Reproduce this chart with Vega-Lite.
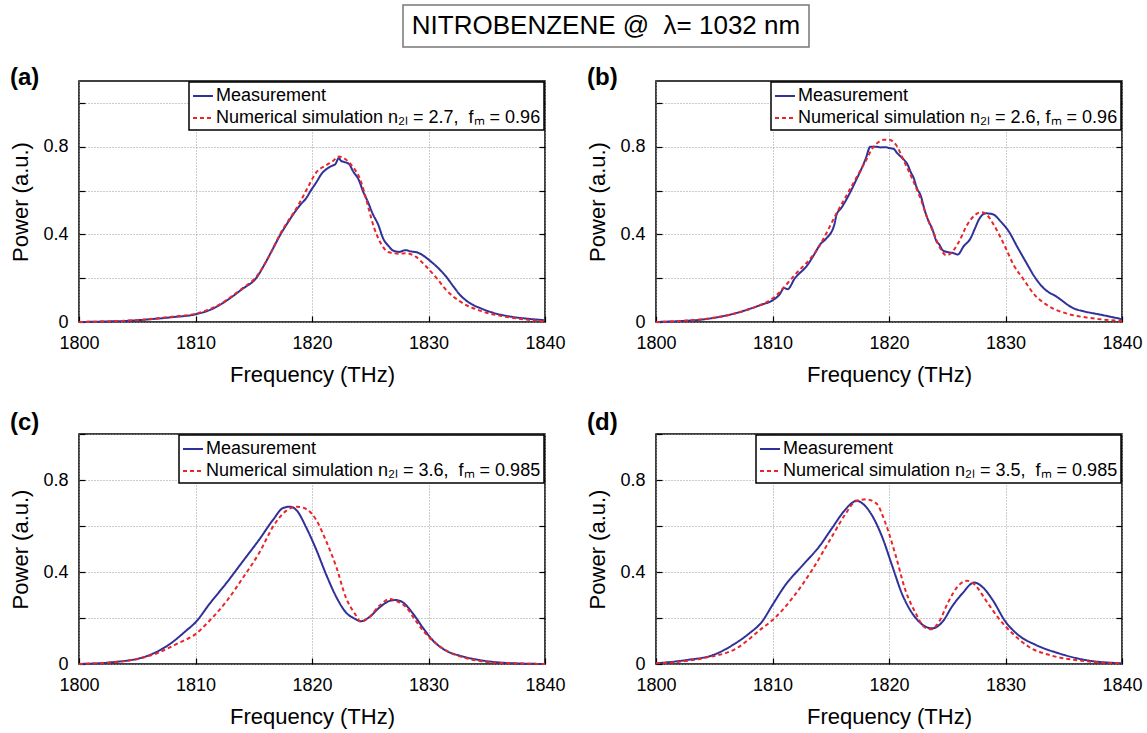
{
"$schema": "https://vega.github.io/schema/vega-lite/v6.json",
"padding": {"left": 9, "top": 4, "right": 5, "bottom": 5},
"background": "white",
"config": {
  "font": "Liberation Sans",
  "view": {"stroke": "black", "strokeWidth": 1.5},
  "axis": {"labelFont": "Liberation Sans", "labelFontSize": 18, "labelColor": "black", "titleFont": "Liberation Sans", "titleFontSize": 22, "titleFontWeight": "normal", "titleColor": "black", "domain": false, "tickColor": "black", "tickSize": -6, "tickWidth": 1.2, "gridColor": "#999", "gridDash": [1, 2], "gridWidth": 1, "labelFlush": false, "labelOverlap": false},
  "axisX": {"labelPadding": 18, "titlePadding": 12},
  "axisY": {"labelPadding": 17, "titlePadding": 10},
  "legend": {"orient": "top-right", "offset": 1, "strokeColor": "black", "strokeWidth": 1.5, "fillColor": "white", "padding": 3, "labelFont": "Liberation Sans", "labelFontSize": 18, "labelColor": "black", "labelLimit": 0, "symbolType": "stroke", "symbolSize": 400, "symbolStrokeWidth": 2, "rowPadding": 2, "labelOffset": 2, "title": null, "cornerRadius": 0},
  "title": {"font": "Liberation Sans", "fontSize": 24, "fontWeight": "bold", "anchor": "start", "frame": "bounds", "color": "black", "baseline": "alphabetic", "offset": -10}
},
"data": {"values": [
{"p":"a","s":"m","f":1800,"y":0},{"p":"a","s":"m","f":1802,"y":0.002},{"p":"a","s":"m","f":1804,"y":0.005},{"p":"a","s":"m","f":1806,"y":0.012},{"p":"a","s":"m","f":1808,"y":0.022},{"p":"a","s":"m","f":1810,"y":0.035},{"p":"a","s":"m","f":1811,"y":0.05},{"p":"a","s":"m","f":1812,"y":0.075},{"p":"a","s":"m","f":1813,"y":0.11},{"p":"a","s":"m","f":1814,"y":0.15},{"p":"a","s":"m","f":1815.2,"y":0.2},{"p":"a","s":"m","f":1816,"y":0.27},{"p":"a","s":"m","f":1816.6,"y":0.33},{"p":"a","s":"m","f":1817.3,"y":0.4},{"p":"a","s":"m","f":1818,"y":0.46},{"p":"a","s":"m","f":1818.5,"y":0.5},{"p":"a","s":"m","f":1819,"y":0.535},{"p":"a","s":"m","f":1819.5,"y":0.565},{"p":"a","s":"m","f":1819.9,"y":0.6},{"p":"a","s":"m","f":1820.4,"y":0.64},{"p":"a","s":"m","f":1820.8,"y":0.675},{"p":"a","s":"m","f":1821.3,"y":0.7},{"p":"a","s":"m","f":1821.8,"y":0.715},{"p":"a","s":"m","f":1822,"y":0.72},{"p":"a","s":"m","f":1822.3,"y":0.748},{"p":"a","s":"m","f":1822.5,"y":0.735},{"p":"a","s":"m","f":1822.8,"y":0.73},{"p":"a","s":"m","f":1823.2,"y":0.72},{"p":"a","s":"m","f":1823.5,"y":0.69},{"p":"a","s":"m","f":1824,"y":0.65},{"p":"a","s":"m","f":1824.4,"y":0.594},{"p":"a","s":"m","f":1824.8,"y":0.548},{"p":"a","s":"m","f":1825.2,"y":0.495},{"p":"a","s":"m","f":1825.7,"y":0.442},{"p":"a","s":"m","f":1826.1,"y":0.382},{"p":"a","s":"m","f":1826.6,"y":0.345},{"p":"a","s":"m","f":1827,"y":0.325},{"p":"a","s":"m","f":1827.5,"y":0.32},{"p":"a","s":"m","f":1828,"y":0.328},{"p":"a","s":"m","f":1828.5,"y":0.322},{"p":"a","s":"m","f":1829,"y":0.318},{"p":"a","s":"m","f":1829.5,"y":0.305},{"p":"a","s":"m","f":1830,"y":0.285},{"p":"a","s":"m","f":1830.7,"y":0.253},{"p":"a","s":"m","f":1831.5,"y":0.208},{"p":"a","s":"m","f":1832.1,"y":0.165},{"p":"a","s":"m","f":1832.7,"y":0.124},{"p":"a","s":"m","f":1833.5,"y":0.088},{"p":"a","s":"m","f":1834.5,"y":0.062},{"p":"a","s":"m","f":1835.5,"y":0.043},{"p":"a","s":"m","f":1837,"y":0.025},{"p":"a","s":"m","f":1838.5,"y":0.015},{"p":"a","s":"m","f":1840,"y":0.008},
{"p":"a","s":"n","f":1800,"y":0},{"p":"a","s":"n","f":1802,"y":0.002},{"p":"a","s":"n","f":1804,"y":0.006},{"p":"a","s":"n","f":1806,"y":0.013},{"p":"a","s":"n","f":1808,"y":0.024},{"p":"a","s":"n","f":1810,"y":0.038},{"p":"a","s":"n","f":1811,"y":0.054},{"p":"a","s":"n","f":1812,"y":0.078},{"p":"a","s":"n","f":1813,"y":0.113},{"p":"a","s":"n","f":1814,"y":0.153},{"p":"a","s":"n","f":1815.2,"y":0.205},{"p":"a","s":"n","f":1816,"y":0.27},{"p":"a","s":"n","f":1816.6,"y":0.33},{"p":"a","s":"n","f":1817.3,"y":0.405},{"p":"a","s":"n","f":1818,"y":0.465},{"p":"a","s":"n","f":1818.5,"y":0.505},{"p":"a","s":"n","f":1819,"y":0.55},{"p":"a","s":"n","f":1819.6,"y":0.61},{"p":"a","s":"n","f":1820.4,"y":0.685},{"p":"a","s":"n","f":1821.2,"y":0.715},{"p":"a","s":"n","f":1821.8,"y":0.735},{"p":"a","s":"n","f":1822.3,"y":0.755},{"p":"a","s":"n","f":1822.9,"y":0.742},{"p":"a","s":"n","f":1823.5,"y":0.708},{"p":"a","s":"n","f":1824.1,"y":0.655},{"p":"a","s":"n","f":1824.5,"y":0.59},{"p":"a","s":"n","f":1824.9,"y":0.51},{"p":"a","s":"n","f":1825.3,"y":0.435},{"p":"a","s":"n","f":1825.8,"y":0.37},{"p":"a","s":"n","f":1826.2,"y":0.335},{"p":"a","s":"n","f":1826.6,"y":0.318},{"p":"a","s":"n","f":1827.5,"y":0.312},{"p":"a","s":"n","f":1828.1,"y":0.314},{"p":"a","s":"n","f":1828.9,"y":0.298},{"p":"a","s":"n","f":1829.8,"y":0.253},{"p":"a","s":"n","f":1830.7,"y":0.2},{"p":"a","s":"n","f":1831.5,"y":0.147},{"p":"a","s":"n","f":1832.7,"y":0.094},{"p":"a","s":"n","f":1834.4,"y":0.052},{"p":"a","s":"n","f":1836.4,"y":0.026},{"p":"a","s":"n","f":1838.4,"y":0.011},{"p":"a","s":"n","f":1840,"y":0.003},
{"p":"b","s":"m","f":1800,"y":0},{"p":"b","s":"m","f":1802,"y":0.004},{"p":"b","s":"m","f":1803.9,"y":0.011},{"p":"b","s":"m","f":1805.5,"y":0.024},{"p":"b","s":"m","f":1806.7,"y":0.038},{"p":"b","s":"m","f":1808.1,"y":0.061},{"p":"b","s":"m","f":1809,"y":0.078},{"p":"b","s":"m","f":1810,"y":0.099},{"p":"b","s":"m","f":1810.6,"y":0.125},{"p":"b","s":"m","f":1811,"y":0.155},{"p":"b","s":"m","f":1811.3,"y":0.15},{"p":"b","s":"m","f":1811.9,"y":0.198},{"p":"b","s":"m","f":1813,"y":0.26},{"p":"b","s":"m","f":1813.6,"y":0.31},{"p":"b","s":"m","f":1814.1,"y":0.355},{"p":"b","s":"m","f":1814.6,"y":0.38},{"p":"b","s":"m","f":1815.3,"y":0.443},{"p":"b","s":"m","f":1815.5,"y":0.49},{"p":"b","s":"m","f":1815.9,"y":0.52},{"p":"b","s":"m","f":1816.7,"y":0.595},{"p":"b","s":"m","f":1817.2,"y":0.65},{"p":"b","s":"m","f":1817.6,"y":0.695},{"p":"b","s":"m","f":1818,"y":0.745},{"p":"b","s":"m","f":1818.4,"y":0.8},{"p":"b","s":"m","f":1818.9,"y":0.8},{"p":"b","s":"m","f":1819.3,"y":0.797},{"p":"b","s":"m","f":1819.7,"y":0.798},{"p":"b","s":"m","f":1820,"y":0.794},{"p":"b","s":"m","f":1820.4,"y":0.79},{"p":"b","s":"m","f":1820.7,"y":0.771},{"p":"b","s":"m","f":1821.1,"y":0.75},{"p":"b","s":"m","f":1821.6,"y":0.718},{"p":"b","s":"m","f":1821.9,"y":0.68},{"p":"b","s":"m","f":1822.1,"y":0.66},{"p":"b","s":"m","f":1822.4,"y":0.61},{"p":"b","s":"m","f":1822.7,"y":0.58},{"p":"b","s":"m","f":1823.1,"y":0.504},{"p":"b","s":"m","f":1823.4,"y":0.46},{"p":"b","s":"m","f":1823.7,"y":0.427},{"p":"b","s":"m","f":1824.1,"y":0.366},{"p":"b","s":"m","f":1824.3,"y":0.355},{"p":"b","s":"m","f":1824.6,"y":0.328},{"p":"b","s":"m","f":1825.1,"y":0.318},{"p":"b","s":"m","f":1825.5,"y":0.315},{"p":"b","s":"m","f":1825.9,"y":0.308},{"p":"b","s":"m","f":1826.4,"y":0.345},{"p":"b","s":"m","f":1827,"y":0.382},{"p":"b","s":"m","f":1827.4,"y":0.43},{"p":"b","s":"m","f":1827.7,"y":0.466},{"p":"b","s":"m","f":1828.3,"y":0.496},{"p":"b","s":"m","f":1828.9,"y":0.492},{"p":"b","s":"m","f":1829.6,"y":0.458},{"p":"b","s":"m","f":1830.3,"y":0.412},{"p":"b","s":"m","f":1831,"y":0.344},{"p":"b","s":"m","f":1831.9,"y":0.26},{"p":"b","s":"m","f":1832.4,"y":0.214},{"p":"b","s":"m","f":1833.3,"y":0.153},{"p":"b","s":"m","f":1834.4,"y":0.115},{"p":"b","s":"m","f":1835.9,"y":0.061},{"p":"b","s":"m","f":1836.7,"y":0.049},{"p":"b","s":"m","f":1838.1,"y":0.034},{"p":"b","s":"m","f":1840,"y":0.013},
{"p":"b","s":"n","f":1800,"y":0},{"p":"b","s":"n","f":1802,"y":0.004},{"p":"b","s":"n","f":1803.9,"y":0.012},{"p":"b","s":"n","f":1805.5,"y":0.024},{"p":"b","s":"n","f":1806.7,"y":0.038},{"p":"b","s":"n","f":1808.5,"y":0.068},{"p":"b","s":"n","f":1810,"y":0.107},{"p":"b","s":"n","f":1811.9,"y":0.214},{"p":"b","s":"n","f":1813.9,"y":0.336},{"p":"b","s":"n","f":1815.5,"y":0.496},{"p":"b","s":"n","f":1816.7,"y":0.611},{"p":"b","s":"n","f":1817.9,"y":0.725},{"p":"b","s":"n","f":1818.7,"y":0.802},{"p":"b","s":"n","f":1819.2,"y":0.825},{"p":"b","s":"n","f":1819.6,"y":0.832},{"p":"b","s":"n","f":1820,"y":0.832},{"p":"b","s":"n","f":1820.6,"y":0.809},{"p":"b","s":"n","f":1821.3,"y":0.733},{"p":"b","s":"n","f":1822.1,"y":0.641},{"p":"b","s":"n","f":1822.7,"y":0.565},{"p":"b","s":"n","f":1823.3,"y":0.473},{"p":"b","s":"n","f":1823.9,"y":0.397},{"p":"b","s":"n","f":1824.4,"y":0.336},{"p":"b","s":"n","f":1824.9,"y":0.305},{"p":"b","s":"n","f":1825.3,"y":0.313},{"p":"b","s":"n","f":1826,"y":0.366},{"p":"b","s":"n","f":1826.7,"y":0.443},{"p":"b","s":"n","f":1827.4,"y":0.489},{"p":"b","s":"n","f":1827.9,"y":0.501},{"p":"b","s":"n","f":1828.4,"y":0.489},{"p":"b","s":"n","f":1829,"y":0.443},{"p":"b","s":"n","f":1829.9,"y":0.351},{"p":"b","s":"n","f":1830.7,"y":0.26},{"p":"b","s":"n","f":1831.6,"y":0.191},{"p":"b","s":"n","f":1832.4,"y":0.13},{"p":"b","s":"n","f":1833.6,"y":0.076},{"p":"b","s":"n","f":1835.3,"y":0.038},{"p":"b","s":"n","f":1837.3,"y":0.018},{"p":"b","s":"n","f":1840,"y":0.005},
{"p":"c","s":"m","f":1800,"y":0},{"p":"c","s":"m","f":1802.7,"y":0.007},{"p":"c","s":"m","f":1805.5,"y":0.029},{"p":"c","s":"m","f":1807.8,"y":0.087},{"p":"c","s":"m","f":1809.2,"y":0.145},{"p":"c","s":"m","f":1810,"y":0.181},{"p":"c","s":"m","f":1811.2,"y":0.261},{"p":"c","s":"m","f":1812.7,"y":0.355},{"p":"c","s":"m","f":1814.1,"y":0.449},{"p":"c","s":"m","f":1815.5,"y":0.543},{"p":"c","s":"m","f":1816.7,"y":0.63},{"p":"c","s":"m","f":1817.5,"y":0.678},{"p":"c","s":"m","f":1818.1,"y":0.684},{"p":"c","s":"m","f":1818.7,"y":0.667},{"p":"c","s":"m","f":1819.5,"y":0.594},{"p":"c","s":"m","f":1820.4,"y":0.493},{"p":"c","s":"m","f":1821.2,"y":0.391},{"p":"c","s":"m","f":1822.1,"y":0.29},{"p":"c","s":"m","f":1822.9,"y":0.225},{"p":"c","s":"m","f":1823.7,"y":0.196},{"p":"c","s":"m","f":1824.2,"y":0.186},{"p":"c","s":"m","f":1824.9,"y":0.203},{"p":"c","s":"m","f":1825.8,"y":0.246},{"p":"c","s":"m","f":1826.7,"y":0.275},{"p":"c","s":"m","f":1827.2,"y":0.278},{"p":"c","s":"m","f":1827.8,"y":0.268},{"p":"c","s":"m","f":1828.7,"y":0.217},{"p":"c","s":"m","f":1829.5,"y":0.159},{"p":"c","s":"m","f":1830.4,"y":0.101},{"p":"c","s":"m","f":1831.5,"y":0.058},{"p":"c","s":"m","f":1832.7,"y":0.036},{"p":"c","s":"m","f":1834.4,"y":0.017},{"p":"c","s":"m","f":1836.9,"y":0.004},{"p":"c","s":"m","f":1840,"y":0},
{"p":"c","s":"n","f":1800,"y":0},{"p":"c","s":"n","f":1804.1,"y":0.014},{"p":"c","s":"n","f":1806.9,"y":0.051},{"p":"c","s":"n","f":1808.5,"y":0.09},{"p":"c","s":"n","f":1810,"y":0.13},{"p":"c","s":"n","f":1811.2,"y":0.188},{"p":"c","s":"n","f":1812.7,"y":0.275},{"p":"c","s":"n","f":1814.1,"y":0.377},{"p":"c","s":"n","f":1815.5,"y":0.486},{"p":"c","s":"n","f":1816.7,"y":0.601},{"p":"c","s":"n","f":1817.8,"y":0.667},{"p":"c","s":"n","f":1818.7,"y":0.684},{"p":"c","s":"n","f":1819.5,"y":0.674},{"p":"c","s":"n","f":1820.4,"y":0.623},{"p":"c","s":"n","f":1821.2,"y":0.536},{"p":"c","s":"n","f":1822.1,"y":0.42},{"p":"c","s":"n","f":1822.9,"y":0.29},{"p":"c","s":"n","f":1823.7,"y":0.217},{"p":"c","s":"n","f":1824.2,"y":0.184},{"p":"c","s":"n","f":1824.9,"y":0.203},{"p":"c","s":"n","f":1825.8,"y":0.254},{"p":"c","s":"n","f":1826.7,"y":0.283},{"p":"c","s":"n","f":1827.2,"y":0.275},{"p":"c","s":"n","f":1828.1,"y":0.246},{"p":"c","s":"n","f":1828.9,"y":0.188},{"p":"c","s":"n","f":1829.8,"y":0.13},{"p":"c","s":"n","f":1830.7,"y":0.087},{"p":"c","s":"n","f":1831.8,"y":0.051},{"p":"c","s":"n","f":1833.5,"y":0.022},{"p":"c","s":"n","f":1835.5,"y":0.007},{"p":"c","s":"n","f":1840,"y":0},
{"p":"d","s":"m","f":1800,"y":0.003},{"p":"d","s":"m","f":1802.6,"y":0.017},{"p":"d","s":"m","f":1804.9,"y":0.039},{"p":"d","s":"m","f":1806.6,"y":0.083},{"p":"d","s":"m","f":1808,"y":0.133},{"p":"d","s":"m","f":1809.1,"y":0.184},{"p":"d","s":"m","f":1810,"y":0.257},{"p":"d","s":"m","f":1811.1,"y":0.343},{"p":"d","s":"m","f":1812.6,"y":0.43},{"p":"d","s":"m","f":1814,"y":0.51},{"p":"d","s":"m","f":1815.1,"y":0.59},{"p":"d","s":"m","f":1816.1,"y":0.662},{"p":"d","s":"m","f":1816.9,"y":0.703},{"p":"d","s":"m","f":1817.2,"y":0.71},{"p":"d","s":"m","f":1817.7,"y":0.699},{"p":"d","s":"m","f":1818.6,"y":0.641},{"p":"d","s":"m","f":1819.4,"y":0.554},{"p":"d","s":"m","f":1820.3,"y":0.423},{"p":"d","s":"m","f":1821.1,"y":0.307},{"p":"d","s":"m","f":1822,"y":0.22},{"p":"d","s":"m","f":1822.9,"y":0.17},{"p":"d","s":"m","f":1823.7,"y":0.155},{"p":"d","s":"m","f":1824.6,"y":0.184},{"p":"d","s":"m","f":1825.4,"y":0.249},{"p":"d","s":"m","f":1826.3,"y":0.307},{"p":"d","s":"m","f":1827.3,"y":0.354},{"p":"d","s":"m","f":1828,"y":0.336},{"p":"d","s":"m","f":1828.9,"y":0.278},{"p":"d","s":"m","f":1830,"y":0.184},{"p":"d","s":"m","f":1831.1,"y":0.126},{"p":"d","s":"m","f":1832.6,"y":0.083},{"p":"d","s":"m","f":1834.6,"y":0.046},{"p":"d","s":"m","f":1836.9,"y":0.017},{"p":"d","s":"m","f":1840,"y":0.003},
{"p":"d","s":"n","f":1800,"y":0.003},{"p":"d","s":"n","f":1804,"y":0.025},{"p":"d","s":"n","f":1806.9,"y":0.068},{"p":"d","s":"n","f":1809.1,"y":0.155},{"p":"d","s":"n","f":1810,"y":0.191},{"p":"d","s":"n","f":1811.7,"y":0.286},{"p":"d","s":"n","f":1813.4,"y":0.409},{"p":"d","s":"n","f":1815.1,"y":0.554},{"p":"d","s":"n","f":1816.3,"y":0.655},{"p":"d","s":"n","f":1817.1,"y":0.706},{"p":"d","s":"n","f":1818,"y":0.716},{"p":"d","s":"n","f":1818.9,"y":0.699},{"p":"d","s":"n","f":1819.7,"y":0.612},{"p":"d","s":"n","f":1820.6,"y":0.467},{"p":"d","s":"n","f":1821.4,"y":0.322},{"p":"d","s":"n","f":1822.3,"y":0.22},{"p":"d","s":"n","f":1823,"y":0.162},{"p":"d","s":"n","f":1823.6,"y":0.151},{"p":"d","s":"n","f":1824.3,"y":0.184},{"p":"d","s":"n","f":1825.1,"y":0.271},{"p":"d","s":"n","f":1826,"y":0.343},{"p":"d","s":"n","f":1826.7,"y":0.362},{"p":"d","s":"n","f":1827.4,"y":0.343},{"p":"d","s":"n","f":1828.3,"y":0.278},{"p":"d","s":"n","f":1829.4,"y":0.199},{"p":"d","s":"n","f":1830.6,"y":0.133},{"p":"d","s":"n","f":1832,"y":0.075},{"p":"d","s":"n","f":1834,"y":0.036},{"p":"d","s":"n","f":1836.6,"y":0.014},{"p":"d","s":"n","f":1840,"y":0.003}
]},
"vconcat": [
  {
    "hconcat": [
      {
        "data": {"values": []},
        "width": 313, "height": 42,
        "view": {"stroke": "transparent"},
        "mark": {"type": "text"},
        "encoding": {}
      },
      {
        "data": {"values": [{"t": "NITROBENZENE @\u00a0\u00a0\u03bb= 1032 nm"}]},
        "width": 406, "height": 42,
        "view": {"stroke": "#777", "strokeWidth": 1.5},
        "mark": {"type": "text", "fontSize": 26, "font": "Liberation Sans", "align": "center", "baseline": "middle", "color": "black"},
        "encoding": {"text": {"field": "t", "type": "nominal"}}
      }
    ],
    "spacing": 9
  },
  {
    "vconcat": [
      {
        "hconcat": [
          {
            "width": 466, "height": 241,
            "title": {"text": "(a)"},
            "transform": [{"filter": "datum.p == 'a'"}],
            "layer": [
              {
                "mark": {"type": "line", "strokeWidth": 2, "interpolate": "monotone"},
                "encoding": {
                  "x": {"field": "f", "type": "quantitative", "scale": {"domain": [1800, 1840], "nice": false}, "axis": {"values": [1800, 1810, 1820, 1830, 1840], "format": "d", "title": "Frequency (THz)"}},
                  "y": {"field": "y", "type": "quantitative", "scale": {"domain": [0, 1.1], "nice": false}, "axis": {"values": [0, 0.2, 0.4, 0.6, 0.8, 1.0], "format": ".1~f", "labelExpr": "datum.value == 0 || datum.value == 0.4 || datum.value == 0.8 ? datum.label : ''", "title": "Power (a.u.)"}},
                  "color": {"field": "s", "type": "nominal", "scale": {"domain": ["m", "n"], "range": ["#30309a", "#e8262a"]}, "legend": {"labelExpr": "datum.value == 'm' ? 'Measurement' : 'Numerical simulation n\u2082\u2097 = 2.7,\u00a0\u00a0f\u2098 = 0.96'"}},
                  "strokeDash": {"field": "s", "type": "nominal", "scale": {"domain": ["m", "n"], "range": [[1, 0], [4, 3]]}, "legend": {"labelExpr": "datum.value == 'm' ? 'Measurement' : 'Numerical simulation n\u2082\u2097 = 2.7,\u00a0\u00a0f\u2098 = 0.96'"}}
                }
              },
              {
                "mark": {"type": "line", "strokeOpacity": 0},
                "encoding": {
                  "x": {"field": "f", "type": "quantitative", "axis": {"orient": "top", "values": [1810, 1820, 1830], "labels": false, "grid": false, "title": null}},
                  "y": {"field": "y", "type": "quantitative", "axis": {"orient": "right", "values": [0.2, 0.4, 0.6, 0.8, 1.0], "labels": false, "grid": false, "title": null}},
                  "detail": {"field": "s"}
                }
              }
            ],
            "resolve": {"axis": {"x": "independent", "y": "independent"}}
          },
          {
            "width": 466, "height": 241,
            "title": {"text": "(b)"},
            "transform": [{"filter": "datum.p == 'b'"}],
            "layer": [
              {
                "mark": {"type": "line", "strokeWidth": 2, "interpolate": "monotone"},
                "encoding": {
                  "x": {"field": "f", "type": "quantitative", "scale": {"domain": [1800, 1840], "nice": false}, "axis": {"values": [1800, 1810, 1820, 1830, 1840], "format": "d", "title": "Frequency (THz)"}},
                  "y": {"field": "y", "type": "quantitative", "scale": {"domain": [0, 1.1], "nice": false}, "axis": {"values": [0, 0.2, 0.4, 0.6, 0.8, 1.0], "format": ".1~f", "labelExpr": "datum.value == 0 || datum.value == 0.4 || datum.value == 0.8 ? datum.label : ''", "title": "Power (a.u.)"}},
                  "color": {"field": "s", "type": "nominal", "scale": {"domain": ["m", "n"], "range": ["#30309a", "#e8262a"]}, "legend": {"labelExpr": "datum.value == 'm' ? 'Measurement' : 'Numerical simulation n\u2082\u2097 = 2.6, f\u2098 = 0.96'"}},
                  "strokeDash": {"field": "s", "type": "nominal", "scale": {"domain": ["m", "n"], "range": [[1, 0], [4, 3]]}, "legend": {"labelExpr": "datum.value == 'm' ? 'Measurement' : 'Numerical simulation n\u2082\u2097 = 2.6, f\u2098 = 0.96'"}}
                }
              },
              {
                "mark": {"type": "line", "strokeOpacity": 0},
                "encoding": {
                  "x": {"field": "f", "type": "quantitative", "axis": {"orient": "top", "values": [1810, 1820, 1830], "labels": false, "grid": false, "title": null}},
                  "y": {"field": "y", "type": "quantitative", "axis": {"orient": "right", "values": [0.2, 0.4, 0.6, 0.8, 1.0], "labels": false, "grid": false, "title": null}},
                  "detail": {"field": "s"}
                }
              }
            ],
            "resolve": {"axis": {"x": "independent", "y": "independent"}}
          }
        ],
        "spacing": 20,
        "resolve": {"scale": {"color": "independent", "strokeDash": "independent"}, "legend": {"color": "independent", "strokeDash": "independent"}}
      },
      {
        "hconcat": [
          {
            "width": 466, "height": 230,
            "title": {"text": "(c)"},
            "transform": [{"filter": "datum.p == 'c'"}],
            "layer": [
              {
                "mark": {"type": "line", "strokeWidth": 2, "interpolate": "monotone"},
                "encoding": {
                  "x": {"field": "f", "type": "quantitative", "scale": {"domain": [1800, 1840], "nice": false}, "axis": {"values": [1800, 1810, 1820, 1830, 1840], "format": "d", "title": "Frequency (THz)"}},
                  "y": {"field": "y", "type": "quantitative", "scale": {"domain": [0, 1.0], "nice": false}, "axis": {"values": [0, 0.2, 0.4, 0.6, 0.8, 1.0], "format": ".1~f", "labelExpr": "datum.value == 0 || datum.value == 0.4 || datum.value == 0.8 ? datum.label : ''", "title": "Power (a.u.)"}},
                  "color": {"field": "s", "type": "nominal", "scale": {"domain": ["m", "n"], "range": ["#30309a", "#e8262a"]}, "legend": {"labelExpr": "datum.value == 'm' ? 'Measurement' : 'Numerical simulation n\u2082\u2097 = 3.6,\u00a0\u00a0f\u2098 = 0.985'"}},
                  "strokeDash": {"field": "s", "type": "nominal", "scale": {"domain": ["m", "n"], "range": [[1, 0], [4, 3]]}, "legend": {"labelExpr": "datum.value == 'm' ? 'Measurement' : 'Numerical simulation n\u2082\u2097 = 3.6,\u00a0\u00a0f\u2098 = 0.985'"}}
                }
              },
              {
                "mark": {"type": "line", "strokeOpacity": 0},
                "encoding": {
                  "x": {"field": "f", "type": "quantitative", "axis": {"orient": "top", "values": [1810, 1820, 1830], "labels": false, "grid": false, "title": null}},
                  "y": {"field": "y", "type": "quantitative", "axis": {"orient": "right", "values": [0.2, 0.4, 0.6, 0.8], "labels": false, "grid": false, "title": null}},
                  "detail": {"field": "s"}
                }
              }
            ],
            "resolve": {"axis": {"x": "independent", "y": "independent"}}
          },
          {
            "width": 466, "height": 230,
            "title": {"text": "(d)"},
            "transform": [{"filter": "datum.p == 'd'"}],
            "layer": [
              {
                "mark": {"type": "line", "strokeWidth": 2, "interpolate": "monotone"},
                "encoding": {
                  "x": {"field": "f", "type": "quantitative", "scale": {"domain": [1800, 1840], "nice": false}, "axis": {"values": [1800, 1810, 1820, 1830, 1840], "format": "d", "title": "Frequency (THz)"}},
                  "y": {"field": "y", "type": "quantitative", "scale": {"domain": [0, 1.0], "nice": false}, "axis": {"values": [0, 0.2, 0.4, 0.6, 0.8, 1.0], "format": ".1~f", "labelExpr": "datum.value == 0 || datum.value == 0.4 || datum.value == 0.8 ? datum.label : ''", "title": "Power (a.u.)"}},
                  "color": {"field": "s", "type": "nominal", "scale": {"domain": ["m", "n"], "range": ["#30309a", "#e8262a"]}, "legend": {"labelExpr": "datum.value == 'm' ? 'Measurement' : 'Numerical simulation n\u2082\u2097 = 3.5,\u00a0\u00a0f\u2098 = 0.985'"}},
                  "strokeDash": {"field": "s", "type": "nominal", "scale": {"domain": ["m", "n"], "range": [[1, 0], [4, 3]]}, "legend": {"labelExpr": "datum.value == 'm' ? 'Measurement' : 'Numerical simulation n\u2082\u2097 = 3.5,\u00a0\u00a0f\u2098 = 0.985'"}}
                }
              },
              {
                "mark": {"type": "line", "strokeOpacity": 0},
                "encoding": {
                  "x": {"field": "f", "type": "quantitative", "axis": {"orient": "top", "values": [1810, 1820, 1830], "labels": false, "grid": false, "title": null}},
                  "y": {"field": "y", "type": "quantitative", "axis": {"orient": "right", "values": [0.2, 0.4, 0.6, 0.8], "labels": false, "grid": false, "title": null}},
                  "detail": {"field": "s"}
                }
              }
            ],
            "resolve": {"axis": {"x": "independent", "y": "independent"}}
          }
        ],
        "spacing": 20,
        "resolve": {"scale": {"color": "independent", "strokeDash": "independent"}, "legend": {"color": "independent", "strokeDash": "independent"}}
      }
    ],
    "spacing": 24,
    "resolve": {"scale": {"color": "independent", "strokeDash": "independent"}, "legend": {"color": "independent", "strokeDash": "independent"}}
  }
],
"spacing": 17,
"resolve": {"scale": {"color": "independent", "strokeDash": "independent"}, "legend": {"color": "independent", "strokeDash": "independent"}}
}
